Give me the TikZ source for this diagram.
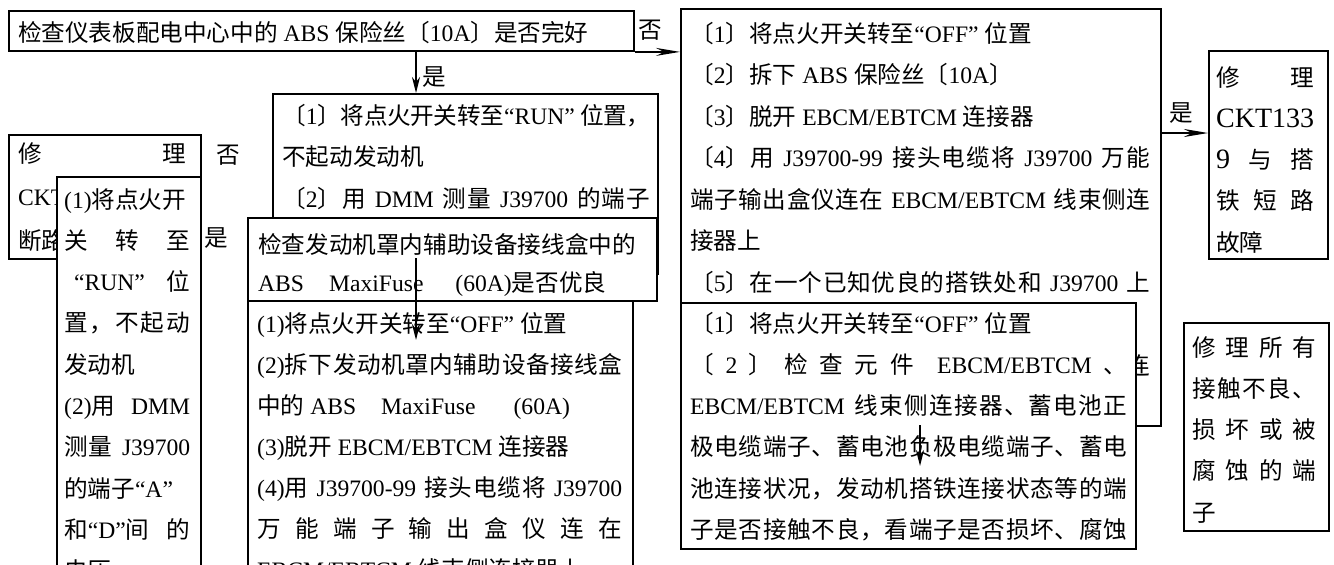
\documentclass[tikz,border=0pt]{standalone}
\usepackage{fontspec}
\setmainfont{Liberation Serif}
\newfontfamily\cjkfont{Noto Sans CJK SC}
\usetikzlibrary{arrows.meta}
\XeTeXinterchartokenstate=1
\chardef\cjkcls=9
\newcount\cjkcnt
\cjkcnt="4E00
\loop \XeTeXcharclass\cjkcnt=\cjkcls \advance\cjkcnt by 1 \ifnum\cjkcnt<"A000 \repeat
\cjkcnt="3000
\loop \XeTeXcharclass\cjkcnt=\cjkcls \advance\cjkcnt by 1 \ifnum\cjkcnt<"3040 \repeat
\cjkcnt="FF00
\loop \XeTeXcharclass\cjkcnt=\cjkcls \advance\cjkcnt by 1 \ifnum\cjkcnt<"FFF0 \repeat
\newcommand\latfont{\rmfamily}
\XeTeXinterchartoks 0 \cjkcls = {\cjkfont}
\XeTeXinterchartoks 4095 \cjkcls = {\cjkfont}
\XeTeXinterchartoks \cjkcls 0 = {\latfont}
\XeTeXinterchartoks \cjkcls 4095 = {\latfont}
\XeTeXinterchartoks \cjkcls \cjkcls = {\hskip 0pt plus 1pt minus 1pt}
\newcommand\jline[1]{\hbox to\hsize{#1}}
\newcommand\nline[1]{\hbox{#1}}
\newcommand\tlines[2]{\vtop{\hsize=#1\relax #2}}
\newcommand\biglat{\fontsize{28pt}{41.3pt}\selectfont}
\begin{document}
\begin{tikzpicture}[x=1pt,y=-1pt,
  box/.style={draw, line width=1.9pt, fill=white, inner sep=0pt, anchor=north west},
  txt/.style={inner sep=0pt, anchor=base west, font={\fontsize{23.6pt}{41.5pt}\selectfont}},
  lbl/.style={inner sep=0pt, font={\cjkfont\fontsize{23.6pt}{28pt}\selectfont}},
  arr/.style={line width=1.9pt, -{Stealth[length=16pt,width=8pt,inset=5pt]}},
  arrh/.style={line width=1.9pt, -{Stealth[length=24pt,width=8pt,inset=8pt]}}]
\fill[white] (0,0) rectangle (1334,565);
\useasboundingbox (0,0) rectangle (1334,565);
% top box
\node[box, minimum width=625pt, minimum height=40pt] (A) at (8,10) {};
\node[txt] (tA) at (18,41) {检查仪表板配电中心中的 ABS 保险丝〔10A〕是否完好};
% box B and its covering boxes
\node[box, minimum width=385pt, minimum height=180pt] (B) at (272,93) {};
\node[txt] (tB) at (282,124) {\tlines{368pt}{%
\jline{〔1〕将点火开关转至“RUN” 位置，}%
\nline{不起动发动机}%
\jline{〔2〕用 DMM 测量 J39700 的端子}}};
\node[box, minimum width=409pt, minimum height=83pt] (C) at (247,217) {};
\node[txt, font={\fontsize{23.6pt}{38pt}\selectfont}] (tC) at (258,253) {\tlines{390pt}{%
\nline{检查发动机罩内辅助设备接线盒中的}%
\nline{ABS\hspace{25pt}MaxiFuse\hspace{32pt}(60A)是否优良}}};
\node[box, minimum width=385pt, minimum height=300pt] (D) at (247,300) {};
\node[txt, font={\fontsize{23.6pt}{41pt}\selectfont}] (tD) at (257,332) {\tlines{365pt}{%
\nline{(1)将点火开关转至“OFF” 位置}%
\jline{(2)拆下发动机罩内辅助设备接线盒}%
\nline{中的 ABS\hspace{25pt}MaxiFuse\hspace{38pt}(60A)}%
\nline{(3)脱开 EBCM/EBTCM 连接器}%
\jline{(4)用 J39700-99 接头电缆将 J39700}%
\jline{万能端子输出盒仪连在}%
\nline{EBCM/EBTCM 线束侧连接器上}}};
% left boxes
\node[box, minimum width=192pt, minimum height=124pt] (E) at (8,134) {};
\node[txt, font={\fontsize{23.6pt}{43.5pt}\selectfont}] (tE) at (18,162) {\tlines{168pt}{%
\jline{修\hfil 理}%
\nline{CKT1339}%
\nline{断路}}};
\node[box, minimum width=144pt, minimum height=420pt] (F) at (56,176) {};
\node[txt, font={\fontsize{23.6pt}{41.3pt}\selectfont}] (tF) at (64,208) {\tlines{126pt}{%
\nline{(1)将点火开}%
\jline{关\hfil 转\hfil 至}%
\jline{\hspace{10pt}“RUN”\hfil 位}%
\jline{置，不起动}%
\nline{发动机}%
\jline{(2)用 DMM}%
\jline{测量 J39700}%
\nline{的端子“A”}%
\jline{和“D”间的}%
\nline{电压}}};
% right column
\node[box, minimum width=480pt, minimum height=417pt] (G) at (680,8) {};
\node[txt] (tG) at (690,42) {\tlines{460pt}{%
\nline{〔1〕将点火开关转至“OFF” 位置}%
\nline{〔2〕拆下 ABS 保险丝〔10A〕}%
\nline{〔3〕脱开 EBCM/EBTCM 连接器}%
\jline{〔4〕用 J39700-99 接头电缆将 J39700 万能}%
\jline{端子输出盒仪连在 EBCM/EBTCM 线束侧连}%
\nline{接器上}%
\jline{〔5〕在一个已知优良的搭铁处和 J39700 上}%
\jline{\hfil ）}%
\jline{\hfil 连}}};
\node[box, minimum width=455pt, minimum height=246pt] (H) at (680,302) {};
\node[txt, font={\fontsize{23.6pt}{41.3pt}\selectfont}] (tH) at (690,332) {\tlines{437pt}{%
\nline{〔1〕将点火开关转至“OFF” 位置}%
\jline{〔\hfil 2\hfil 〕\hfil 检\hfil 查\hfil 元\hfil 件\hfil\hfil EBCM/EBTCM\hfil 、}%
\jline{EBCM/EBTCM 线束侧连接器、蓄电池正}%
\jline{极电缆端子、蓄电池负极电缆端子、蓄电}%
\jline{池连接状况，发动机搭铁连接状态等的端}%
\jline{子是否接触不良，看端子是否损坏、腐蚀}}};
\node[box, minimum width=119pt, minimum height=208pt] (I) at (1208,50) {};
\node[txt, font={\fontsize{23.6pt}{41.3pt}\selectfont}] (tI) at (1216,86) {\tlines{98pt}{%
\jline{修\hfil 理}%
\nline{{\biglat CKT133}}%
\jline{{\biglat 9}\hfil 与\hfil 搭}%
\jline{铁短路}%
\nline{故障}}};
\node[box, minimum width=145pt, minimum height=208pt] (J) at (1183,322) {};
\node[txt, font={\fontsize{23.6pt}{41.3pt}\selectfont}] (tJ) at (1192,356) {\tlines{124pt}{%
\jline{修理所有}%
\jline{接触不良、}%
\jline{损坏或被}%
\jline{腐蚀的端}%
\nline{子}}};
% labels
\node[lbl] (l1) at (650,30) {否};
\node[lbl] (l2) at (434,77) {是};
\node[lbl] (l3) at (228,155) {否};
\node[lbl] (l4) at (216,238) {是};
\node[lbl] (l5) at (1181,113) {是};
% connectors
\coordinate (pA) at (416,50);
\draw[arr] (pA) -- (pA |- B.north);
\draw[arrh] (A.south east) -- (A.south east -| G.west);
\coordinate (pG) at (1160,133);
\draw[arrh] (pG) -- (pG -| I.west);
\coordinate (pC) at (416,258);
\coordinate (pD) at (416,340);
\draw[arr] (pC) -- (pD);
\coordinate (pG2) at (920,425);
\coordinate (pH) at (920,466);
\draw[arr] (pG2) -- (pH);
\end{tikzpicture}
\end{document}
